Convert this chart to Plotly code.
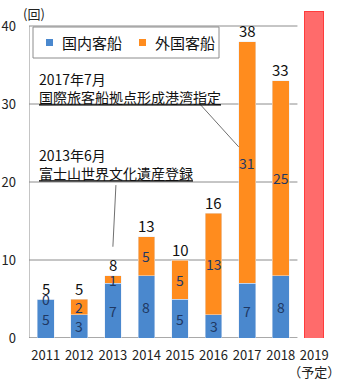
import plotly.graph_objects as go

# Cruise ship port calls per year (回)
years = ["2011", "2012", "2013", "2014", "2015", "2016", "2017", "2018"]
domestic = [5, 3, 7, 8, 5, 3, 7, 8]
foreign = [0, 2, 1, 5, 5, 13, 31, 25]
totals = [5, 5, 8, 13, 10, 16, 38, 33]
series_names = ["国内客船", "外国客船"]

plan_label = "2019<br>（予定）"
plan_value = 41.8

y_ticks = [0, 10, 20, 30, 40]

FONT = "Noto Sans CJK JP"
BLUE = "#4A88CE"
ORANGE = "#FF8C1E"
PLAN = "#FF6B6B"
GRID = "#8C8C8C"
SEG_TEXT = "#1F3864"

W, H = 340, 382
ML, MR, MT, MB = 29, 9, 4, 44
PW, PH = W - ML - MR, H - MT - MB


def px_x(px):
    return (px - ML) / PW


def px_y(py):
    return (H - MB - py) / PH


categories = years + [plan_label]

fig = go.Figure()
fig.add_bar(x=years, y=domestic, name=series_names[0], marker_color=BLUE,
            width=0.5, hoverinfo="skip", showlegend=False)
fig.add_bar(x=years, y=foreign, name=series_names[1], marker_color=ORANGE,
            width=0.5, hoverinfo="skip", showlegend=False)
fig.add_bar(x=[plan_label], y=[plan_value], marker_color=PLAN,
            marker_line=dict(color="#FF3C3C", width=1), width=0.56,
            showlegend=False, hoverinfo="skip")

shapes = []
# horizontal gridlines over the recorded years only
for v in y_ticks:
    shapes.append(dict(type="line", xref="x", yref="y", x0=-0.5, x1=len(years) - 0.5,
                       y0=v, y1=v, line=dict(color=GRID, width=1.5 if v == 0 else 1),
                       layer="below"))
shapes.append(dict(type="line", xref="x", yref="y", x0=-0.5, x1=-0.5, y0=0, y1=y_ticks[-1],
                   line=dict(color=GRID, width=1), layer="below"))
# leader lines from the event notes
shapes.append(dict(type="line", xref="x", yref="y", x0=4.57, y0=30.1, x1=5.75, y1=24.5,
                   line=dict(color="#707070", width=1)))
shapes.append(dict(type="line", xref="x", yref="y", x0=2.09, y0=19.6, x1=2.0, y1=11.7,
                   line=dict(color="#707070", width=1)))

annotations = []

# legend box with colour keys
shapes.append(dict(type="rect", xref="paper", yref="paper",
                   x0=px_x(33), x1=px_x(219), y0=px_y(58), y1=px_y(27),
                   fillcolor="white", line=dict(color=GRID, width=1), layer="above"))
for name, color, sx, tx in zip(series_names, [BLUE, ORANGE], [46, 139], [60, 153]):
    shapes.append(dict(type="rect", xref="paper", yref="paper",
                       x0=px_x(sx), x1=px_x(sx + 7), y0=px_y(46), y1=px_y(39),
                       fillcolor=color, line=dict(width=0), layer="above"))
    annotations.append(dict(xref="paper", yref="paper", x=px_x(tx), y=px_y(42.5),
                            xanchor="left", yanchor="middle", showarrow=False, text=name,
                            font=dict(family=FONT, size=15, color="#111111")))

for i, (d, f, t) in enumerate(zip(domestic, foreign, totals)):
    annotations.append(dict(x=i, y=d / 2, text=str(d), showarrow=False,
                            font=dict(family=FONT, size=14, color=SEG_TEXT)))
    annotations.append(dict(x=i, y=d + f / 2, text=str(f), showarrow=False,
                            font=dict(family=FONT, size=14, color=SEG_TEXT)))
    annotations.append(dict(x=i, y=t, text=str(t), showarrow=False, yanchor="middle",
                            yshift=11, font=dict(family=FONT, size=15, color="#111111")))

annotations.append(dict(xref="paper", yref="paper", x=px_x(37), y=px_y(88),
                        xanchor="left", yanchor="middle", align="left", showarrow=False,
                        text="2017年7月<br><u>国際旅客船拠点形成港湾指定</u>",
                        font=dict(family=FONT, size=14, color="#111111")))
annotations.append(dict(xref="paper", yref="paper", x=px_x(37), y=px_y(164),
                        xanchor="left", yanchor="middle", align="left", showarrow=False,
                        text="2013年6月<br><u>富士山世界文化遺産登録</u>",
                        font=dict(family=FONT, size=14, color="#111111")))
annotations.append(dict(xref="paper", yref="paper", x=px_x(34), y=px_y(13),
                        xanchor="center", yanchor="middle", showarrow=False,
                        text="(回)", font=dict(family=FONT, size=13, color="#222222")))

fig.update_layout(
    width=W, height=H,
    margin=dict(l=ML, r=MR, t=MT, b=MB, pad=0),
    paper_bgcolor="white", plot_bgcolor="white",
    barmode="stack",
    font=dict(family=FONT, size=13, color="#222222"),
    showlegend=False,
    xaxis=dict(type="category", categoryorder="array", categoryarray=categories,
               range=[-0.5, len(categories) - 0.5], showgrid=False, showline=False,
               zeroline=False, ticks="", ticklabelstandoff=8, tickangle=0,
               automargin=False,
               tickfont=dict(family=FONT, size=13, color="#222222")),
    yaxis=dict(range=[0, PH / 7.8], tickvals=y_ticks, showgrid=False, showline=False,
               zeroline=False, ticks="", ticklabelstandoff=12, automargin=False,
               tickfont=dict(family=FONT, size=13, color="#222222")),
    shapes=shapes,
    annotations=annotations,
)

fig.write_html("out.html")
